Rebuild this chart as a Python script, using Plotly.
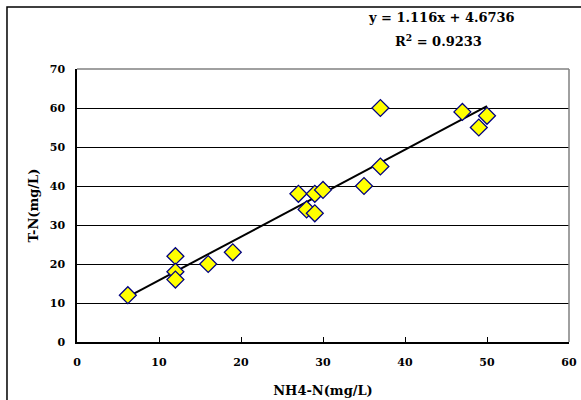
import plotly.graph_objects as go

nh4_n = [6.2, 12, 12, 12, 16, 19, 27, 28, 29, 29, 30, 35, 37, 37, 47, 49, 50]
t_n = [12, 22, 18, 16, 20, 23, 38, 34, 38, 33, 39, 40, 60, 45, 59, 55, 58]
slope = 1.116
intercept = 4.6736
r2 = 0.9233
x_ticks = [0, 10, 20, 30, 40, 50, 60]
y_ticks = [0, 10, 20, 30, 40, 50, 60, 70]

FONT = "DejaVu Serif"

fit_x = [min(nh4_n), max(nh4_n)]
fit_y = [slope * v + intercept for v in fit_x]

fig = go.Figure()
fig.add_trace(go.Scatter(x=fit_x, y=fit_y, mode="lines",
                         line=dict(color="black", width=2), showlegend=False))
fig.add_trace(go.Scatter(x=nh4_n, y=t_n, mode="markers",
                         marker=dict(symbol="diamond", size=13, color="#FFFF00",
                                     line=dict(color="#000080", width=1.3)),
                         showlegend=False))

fig.update_layout(
    width=581, height=400,
    margin=dict(l=77, r=12, t=69, b=58, autoexpand=False),
    paper_bgcolor="white", plot_bgcolor="white",
    font=dict(family=FONT, size=11, color="black"),
    xaxis=dict(range=[0, 60], tickvals=x_ticks, ticktext=[f"<b>{v}</b>" for v in x_ticks],
               ticks="inside", ticklen=5, ticklabelstandoff=9, automargin=False,
               tickcolor="black", showline=True, linecolor="black", linewidth=1.5,
               showgrid=False, zeroline=False,
               tickfont=dict(family=FONT, size=11),
               title=dict(text="<b>NH4-N(mg/L)</b>", font=dict(family=FONT, size=13), standoff=18)),
    yaxis=dict(range=[0, 70], tickvals=y_ticks, ticktext=[f"<b>{v}</b>" for v in y_ticks],
               ticks="", ticklabelstandoff=8, showline=True, automargin=False,
               linecolor="black", linewidth=1.5,
               showgrid=True, gridcolor="black", gridwidth=1, zeroline=False,
               tickfont=dict(family=FONT, size=11),
               title=dict(text="<b>T-N(mg/L)</b>", font=dict(family=FONT, size=13), standoff=8)),
    shapes=[
        dict(type="rect", xref="paper", yref="paper", x0=-0.1423, x1=1.2, y0=-0.4, y1=1.227,
             line=dict(color="black", width=1.5), layer="below"),
        dict(type="line", xref="paper", yref="paper", x0=1, x1=1, y0=0, y1=1,
             line=dict(color="#808080", width=1.5)),
        dict(type="line", xref="paper", yref="paper", x0=0, x1=1, y0=1, y1=1,
             line=dict(color="#808080", width=1.5)),
    ],
    annotations=[
        dict(xref="paper", yref="paper", x=0.740, y=1.19, xanchor="center", yanchor="middle",
             text="<b>y = 1.116x + 4.6736</b>", showarrow=False,
             font=dict(family=FONT, size=13)),
        dict(xref="paper", yref="paper", x=0.735, y=1.105, xanchor="center", yanchor="middle",
             text="<b>R<sup>2</sup> = 0.9233</b>", showarrow=False,
             font=dict(family=FONT, size=13)),
    ],
)

fig.write_html("out.html", config={"displayModeBar": False},
               post_script="document.body.style.margin='0';document.body.style.padding='0';")
